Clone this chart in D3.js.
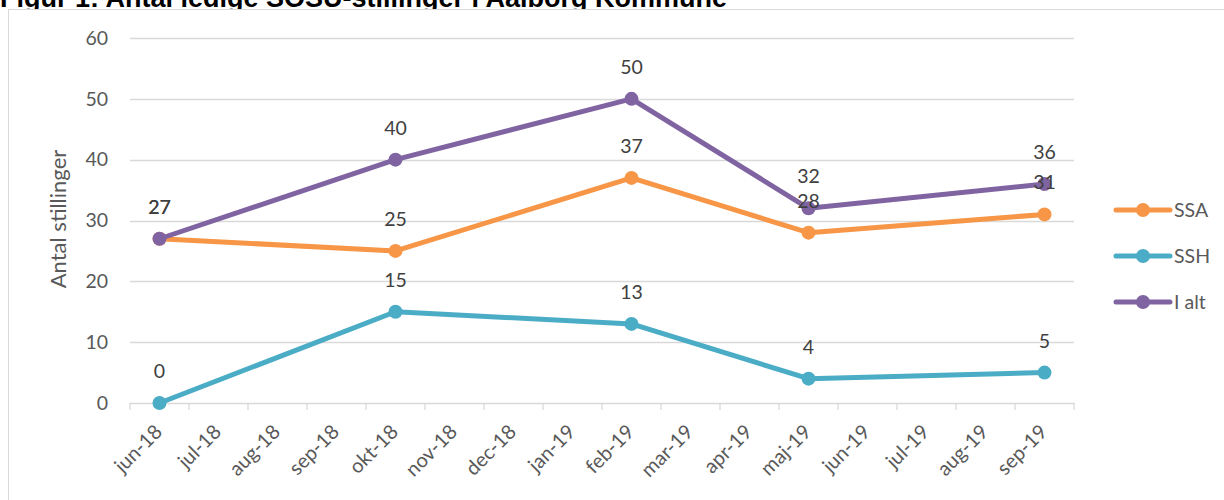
<!DOCTYPE html>
<html>
<head>
<meta charset="utf-8">
<script src="https://cdn.jsdelivr.net/npm/d3@7"></script>
<style>
  body { margin: 0; background: #fff; }
  svg { display: block; }
</style>
</head>
<body>
<div id="chart"></div>
<script>
// months on the category axis
var months = ["jun-18","jul-18","aug-18","sep-18","okt-18","nov-18","dec-18","jan-19",
              "feb-19","mar-19","apr-19","maj-19","jun-19","jul-19","aug-19","sep-19"];
// months that have a value
var obsMonths = ["jun-18","okt-18","feb-19","maj-19","sep-19"];
var ssaVals  = [27, 25, 37, 28, 31];
var sshVals  = [0, 15, 13, 4, 5];
var ialtVals = [27, 40, 50, 32, 36];
var yTicks = [0, 10, 20, 30, 40, 50, 60];

var seriesNames = ["SSA", "SSH", "I alt"];
var seriesVals = [ssaVals, sshVals, ialtVals];
var colors = ["#F79646", "#4BACC6", "#8064A2"];

var width = 1224, height = 500;
var plot = {left: 130, right: 1074, top: 38, bottom: 403};

var svg = d3.select("#chart").append("svg")
    .attr("width", width)
    .attr("height", height);

// title (cut off at top like the source)
svg.append("text")
    .attr("x", 0).attr("y", 7)
    .style("font-family", "Arial, 'Liberation Sans', sans-serif")
    .style("font-weight", "bold")
    .style("font-size", "27px")
    .style("fill", "#000")
    .text("Figur 1: Antal ledige SOSU-stillinger i Aalborg Kommune");

// chart frame
svg.append("rect")
    .attr("x", 8.5).attr("y", 9.5)
    .attr("width", 1230).attr("height", 500)
    .attr("fill", "#fff")
    .attr("stroke", "#d9d9d9");

var x = d3.scaleBand()
    .domain(months)
    .range([plot.left, plot.right]);

var y = d3.scaleLinear()
    .domain([0, 60])
    .range([plot.bottom, plot.top]);

var font = "Lato, Carlito, 'Open Sans', sans-serif";

// gridlines
svg.append("g").selectAll("line")
    .data(yTicks.filter(function(d) { return d > 0; }))
    .enter().append("line")
    .attr("x1", plot.left).attr("x2", plot.right)
    .attr("y1", function(d) { return Math.round(y(d)) + 0.5; })
    .attr("y2", function(d) { return Math.round(y(d)) + 0.5; })
    .attr("stroke", "#d9d9d9")
    .attr("stroke-width", 1.3);

// y tick labels
svg.append("g").selectAll("text")
    .data(yTicks)
    .enter().append("text")
    .attr("x", 108)
    .attr("y", function(d) { return y(d); })
    .attr("dy", "0.35em")
    .attr("text-anchor", "end")
    .style("font-family", font)
    .style("font-size", "19.5px")
    .style("fill", "#595959")
    .text(function(d) { return d; });

// y axis title
svg.append("text")
    .attr("transform", "translate(66,219) rotate(-90)")
    .attr("text-anchor", "middle")
    .style("font-family", font)
    .style("font-size", "22px")
    .style("fill", "#595959")
    .text("Antal stillinger");

// x axis
var xAxis = d3.axisBottom(x).tickSize(0).tickFormat(function(d) { return d; });
var gx = svg.append("g")
    .attr("transform", "translate(0," + plot.bottom + ")")
    .call(xAxis);
gx.select(".domain").remove();
gx.append("line")
    .attr("x1", plot.left).attr("x2", plot.right + 1)
    .attr("y1", 0.5).attr("y2", 0.5)
    .attr("stroke", "#d9d9d9").attr("stroke-width", 1.3);
// tick marks at category boundaries
gx.append("g").selectAll("line")
    .data(months.concat(["end"]))
    .enter().append("line")
    .attr("x1", function(d, i) { return i < months.length ? x(d) : plot.right; })
    .attr("x2", function(d, i) { return i < months.length ? x(d) : plot.right; })
    .attr("y1", 0).attr("y2", 7)
    .attr("stroke", "#d9d9d9").attr("stroke-width", 1.3);
gx.selectAll(".tick text")
    .attr("x", 0).attr("y", 0).attr("dy", 0)
    .attr("text-anchor", "end")
    .attr("transform", "translate(4,30) rotate(-45)")
    .style("font-family", font)
    .style("font-size", "20px")
    .style("fill", "#595959");

var line = d3.line()
    .x(function(d, i) { return x(obsMonths[i]) + x.bandwidth() / 2; })
    .y(function(d) { return y(d); });

seriesVals.forEach(function(vals, s) {
    var g = svg.append("g");
    g.append("path")
        .datum(vals)
        .attr("d", line)
        .attr("fill", "none")
        .attr("stroke", colors[s])
        .attr("stroke-width", 5)
        .attr("stroke-linejoin", "round");
    g.selectAll("circle")
        .data(vals)
        .enter().append("circle")
        .attr("cx", function(d, i) { return x(obsMonths[i]) + x.bandwidth() / 2; })
        .attr("cy", function(d) { return y(d); })
        .attr("r", 7)
        .attr("fill", colors[s]);
});

// data labels
seriesVals.forEach(function(vals, s) {
    svg.append("g").selectAll("text")
        .data(vals)
        .enter().append("text")
        .attr("x", function(d, i) { return x(obsMonths[i]) + x.bandwidth() / 2; })
        .attr("y", function(d) { return y(d) - 25; })
        .attr("text-anchor", "middle")
        .style("font-family", font)
        .style("font-size", "19.5px")
        .style("fill", "#404040")
        .text(function(d) { return d; });
});

// legend
var legend = svg.append("g").selectAll("g")
    .data(seriesNames)
    .enter().append("g")
    .attr("transform", function(d, i) { return "translate(1116," + (210 + i * 46) + ")"; });
legend.append("line")
    .attr("x1", 0).attr("x2", 54)
    .attr("stroke", function(d, i) { return colors[i]; })
    .attr("stroke-width", 5)
    .attr("stroke-linecap", "round");
legend.append("circle")
    .attr("cx", 27).attr("r", 7)
    .attr("fill", function(d, i) { return colors[i]; });
legend.append("text")
    .attr("x", 58).attr("dy", "0.35em")
    .style("font-family", font)
    .style("font-size", "19.5px")
    .style("fill", "#595959")
    .text(function(d) { return d; });
</script>
</body>
</html>
